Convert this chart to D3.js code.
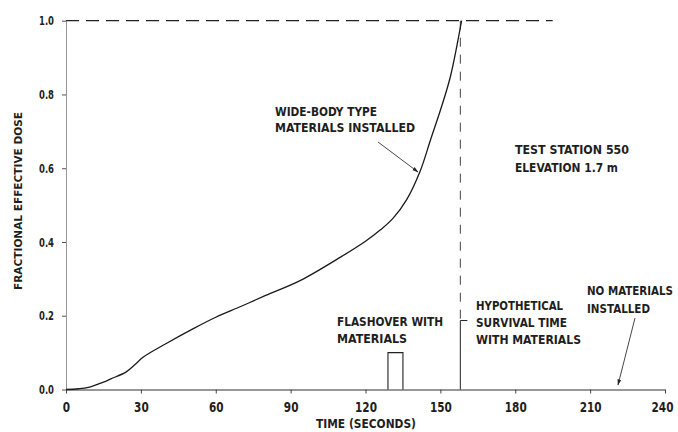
<!DOCTYPE html>
<html>
<head>
<meta charset="utf-8">
<script src="https://cdn.jsdelivr.net/npm/d3@7"></script>
<style>
  body { margin: 0; background: #fff; }
  svg { display: block; }
  text { font-family: "Liberation Sans Narrow", "DejaVu Sans Condensed", Roboto, sans-serif; font-weight: bold; fill: #1e1e1e; }
</style>
</head>
<body>
<svg id="chart" width="678" height="432"></svg>
<script>
// dose curve, wide-body type materials installed (time s, FED)
var curveTime = [0, 5, 9, 15, 18, 24, 28, 31, 40, 51, 60, 70, 80, 94, 110, 120, 126, 131, 136.5, 142, 146, 150, 154, 158.5];
var curveDose = [0, 0.002, 0.006, 0.02, 0.029, 0.047, 0.07, 0.088, 0.124, 0.165, 0.196, 0.225, 0.255, 0.296, 0.359, 0.402, 0.433, 0.464, 0.515, 0.594, 0.676, 0.757, 0.848, 1.0];

var xTicks = [0, 30, 60, 90, 120, 150, 180, 210, 240];
var yTicks = [0, 0.2, 0.4, 0.6, 0.8, 1.0];

var flashover = [129, 135];      // start, end (s)
var flashoverLevel = 0.1;
var survivalTime = 158;
var survivalMark = 0.187;
var limitEnd = 195;              // end of the 1.0 dashed line

var svg = d3.select("#chart");

var x = d3.scaleLinear().domain([0, 240]).range([66, 665]);
var y = d3.scaleLinear().domain([0, 1]).range([389.5, 20.7]);

// axes
var xAxis = svg.append("g")
  .attr("transform", "translate(0," + y(0) + ")")
  .call(d3.axisBottom(x).tickValues(xTicks).tickSize(4).tickPadding(9).tickSizeOuter(0))
xAxis.select(".domain").attr("stroke", "#333").attr("stroke-width", 1.2)
xAxis.selectAll(".tick line").attr("stroke", "#444")
xAxis.selectAll(".tick text")
  .attr("font-size", 14)
  .attr("textLength", function (d) { return String(d).length * 7.3 })
  .attr("lengthAdjust", "spacingAndGlyphs")
  .attr("dx", function (d) { return d === 240 ? -3 : 0 })

var yAxis = svg.append("g")
  .attr("transform", "translate(" + x(0) + ",0)")
  .call(d3.axisLeft(y).tickValues(yTicks).tickFormat(d3.format(".1f")).tickSize(4).tickPadding(8).tickSizeOuter(0))
yAxis.select(".domain").attr("stroke", "#777").attr("stroke-width", 0.8)
yAxis.selectAll(".tick line").attr("stroke", "#555")
yAxis.selectAll(".tick text")
  .attr("font-size", 13)
  .attr("textLength", 15)
  .attr("lengthAdjust", "spacingAndGlyphs")

// axis titles
svg.append("text")
  .attr("transform", "translate(22,201) rotate(-90)")
  .attr("text-anchor", "middle")
  .attr("font-size", 11)
  .attr("textLength", 178)
  .attr("lengthAdjust", "spacingAndGlyphs")
  .text("FRACTIONAL EFFECTIVE DOSE")

svg.append("text")
  .attr("x", 366).attr("y", 428)
  .attr("text-anchor", "middle")
  .attr("font-size", 12)
  .attr("textLength", 100)
  .attr("lengthAdjust", "spacingAndGlyphs")
  .text("TIME (SECONDS)")

// limit line at 1.0
svg.append("line")
  .attr("x1", x(0)).attr("x2", x(limitEnd))
  .attr("y1", y(1)).attr("y2", y(1))
  .attr("stroke", "#222").attr("stroke-width", 1.2)
  .attr("stroke-dasharray", "13,7")

// survival time marker
svg.append("line")
  .attr("x1", x(survivalTime)).attr("x2", x(survivalTime))
  .attr("y1", y(1)).attr("y2", y(survivalMark))
  .attr("stroke", "#444").attr("stroke-width", 1)
  .attr("stroke-dasharray", "9,8")
svg.append("path")
  .attr("d", "M" + (x(survivalTime) + 7) + "," + y(survivalMark) + "H" + x(survivalTime) + "V" + y(0))
  .attr("fill", "none").attr("stroke", "#222").attr("stroke-width", 1)

// flashover window
svg.append("path")
  .attr("d", "M" + x(flashover[0]) + "," + y(0) + "V" + y(flashoverLevel) + "H" + x(flashover[1]) + "V" + y(0))
  .attr("fill", "none").attr("stroke", "#222").attr("stroke-width", 1.1)

// dose curve
var pts = curveTime.map(function (t, i) { return [t, curveDose[i]] })
svg.append("path")
  .datum(pts)
  .attr("d", d3.line().x(function (d) { return x(d[0]) }).y(function (d) { return y(d[1]) }).curve(d3.curveCatmullRom.alpha(0.5)))
  .attr("fill", "none").attr("stroke", "#1a1a1a").attr("stroke-width", 1.3)

// arrowheads
svg.append("defs").append("marker")
  .attr("id", "arrow")
  .attr("viewBox", "0 0 10 10").attr("refX", 9).attr("refY", 5)
  .attr("markerWidth", 7).attr("markerHeight", 7)
  .attr("orient", "auto")
  .append("path").attr("d", "M0,2 L10,5 L0,8 Z").attr("fill", "#222")

function arrow(x1, y1, x2, y2) {
  svg.append("line")
    .attr("x1", x1).attr("y1", y1).attr("x2", x2).attr("y2", y2)
    .attr("stroke", "#333").attr("stroke-width", 0.9)
    .attr("marker-end", "url(#arrow)")
}

function label(lines, x0, baselines, widths, size) {
  lines.forEach(function (s, i) {
    svg.append("text")
      .attr("x", x0).attr("y", baselines[i])
      .attr("font-size", size)
      .attr("textLength", widths[i])
      .attr("lengthAdjust", "spacingAndGlyphs")
      .text(s)
  })
}

label(["WIDE-BODY TYPE", "MATERIALS INSTALLED"], 275, [116, 131.5], [102, 140], 12)
arrow(378, 142, 418, 172)

label(["TEST STATION 550", "ELEVATION 1.7 m"], 515, [154, 171.5], [114, 103], 12)

label(["FLASHOVER WITH", "MATERIALS"], 337, [326, 343], [106, 70], 12)

label(["HYPOTHETICAL", "SURVIVAL TIME", "WITH MATERIALS"], 476, [310, 327, 344], [87, 91, 105], 12)

label(["NO MATERIALS", "INSTALLED"], 587, [295, 312.5], [86, 63], 12)
arrow(635, 318, 618, 385)
</script>
</body>
</html>
